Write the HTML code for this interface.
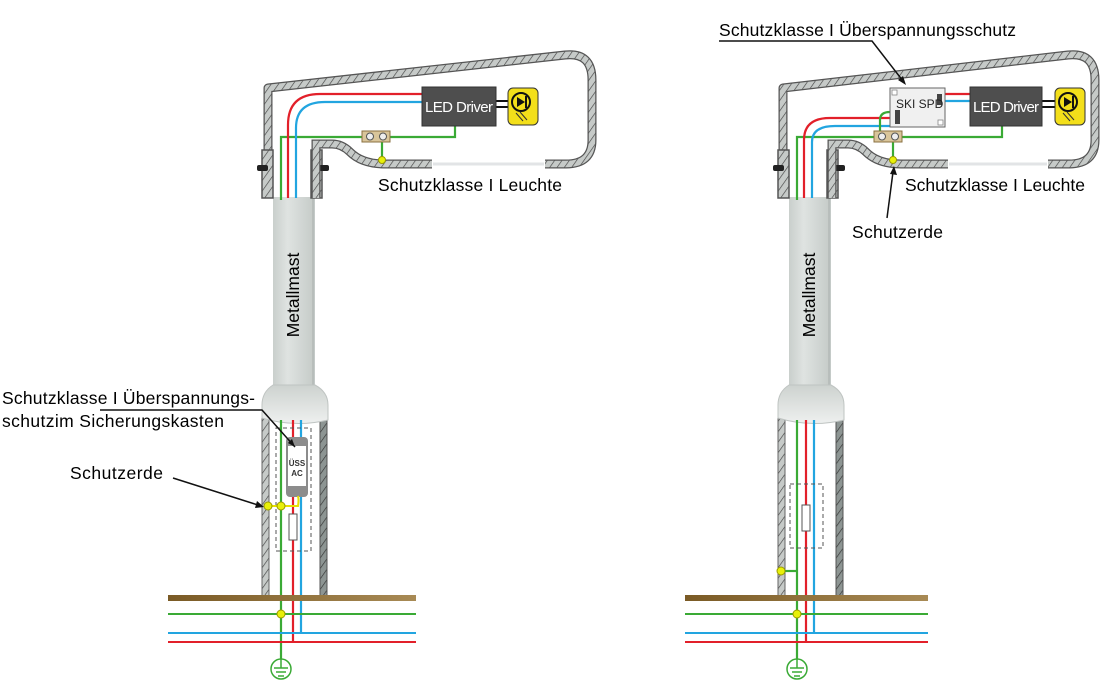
<!DOCTYPE html>
<html><head><meta charset="utf-8"><style>
body{margin:0;background:#fff}
svg{display:block}
text{font-family:"Liberation Sans",sans-serif}
</style></head><body>
<svg width="1102" height="681" viewBox="0 0 1102 681" xmlns="http://www.w3.org/2000/svg">
<defs>
<pattern id="hatch" patternUnits="userSpaceOnUse" width="6" height="6" patternTransform="rotate(35)">
<rect width="6" height="6" fill="#c6cac8"/><line x1="0" y1="0" x2="0" y2="6" stroke="#444" stroke-width="1.3"/>
</pattern>
<pattern id="hatchD" patternUnits="userSpaceOnUse" width="6" height="6" patternTransform="rotate(35)">
<rect width="6" height="6" fill="#8d9593"/><line x1="0" y1="0" x2="0" y2="6" stroke="#333" stroke-width="1.3"/>
</pattern>
<linearGradient id="pg" x1="0" x2="1">
<stop offset="0" stop-color="#c9cfcc"/><stop offset="0.35" stop-color="#dfe3e1"/><stop offset="1" stop-color="#c4cac7"/>
</linearGradient>
<linearGradient id="fg" x1="0" y1="0" x2="0" y2="1">
<stop offset="0" stop-color="#cdd2cf"/><stop offset="1" stop-color="#eef0ef"/>
</linearGradient>
<linearGradient id="brown" x1="0" x2="1">
<stop offset="0" stop-color="#7a5a25"/><stop offset="1" stop-color="#a88a55"/>
</linearGradient>
<g id="pole">
 <rect x="262" y="415" width="7" height="183" fill="url(#hatch)" stroke="#666" stroke-width="1"/>
 <rect x="320" y="415" width="7" height="183" fill="url(#hatchD)" stroke="#555" stroke-width="1"/>
 <rect x="273" y="197" width="42" height="200" fill="url(#pg)"/>
 <line x1="313" y1="197" x2="313" y2="397" stroke="#a9afad" stroke-width="1"/>
 <path d="M273,385 Q262,392 262,405 L262,418 Q295,428 328,420 L328,405 Q328,392 315,385 Z" fill="url(#fg)" stroke="#bfc4c2" stroke-width="1"/>
 <text x="0" y="0" font-size="17.5" transform="translate(299,295) rotate(-90)" text-anchor="middle">Metallmast</text>
 <rect x="262" y="150" width="11" height="48" fill="url(#hatch)" stroke="#555" stroke-width="1.5"/>
 <rect x="311" y="150" width="11" height="48" fill="url(#hatch)" stroke="#555" stroke-width="1.5"/>
 <rect x="257" y="165" width="11" height="6" rx="2" fill="#222"/>
 <rect x="318" y="165" width="11" height="6" rx="2" fill="#222"/>
 <path d="M432,164 L385,164 Q362,164 350,152 Q342,144 332,144 L316,144 L316,198" fill="none" stroke="#555" stroke-width="9"/>
 <path d="M432,164 L385,164 Q362,164 350,152 Q342,144 332,144 L316,144 L316,198" fill="none" stroke="url(#hatch)" stroke-width="6.5"/>
</g>
</defs>

<g fill="none" stroke-linejoin="round">
 <path d="M268,198 L268,88 L565,55 Q592,52 592,80 L592,140 Q592,164 566,164 L545,164" stroke="#555" stroke-width="9"/>
 <path d="M268,198 L268,88 L565,55 Q592,52 592,80 L592,140 Q592,164 566,164 L545,164" stroke="url(#hatch)" stroke-width="6.5"/>
 <line x1="433" y1="164" x2="544" y2="164" stroke="#e2e4e6" stroke-width="3"/>
</g>
<use href="#pole"/>
<line x1="496" y1="101" x2="508" y2="101" stroke="#111" stroke-width="2"/>
<line x1="496" y1="107" x2="508" y2="107" stroke="#111" stroke-width="2"/>
<rect x="508" y="88" width="30" height="37" rx="5" fill="#f3df1a" stroke="#333" stroke-width="1"/>
<circle cx="521" cy="102" r="9" fill="none" stroke="#111" stroke-width="2"/>
<path d="M517,97 L517,107 L525,102 Z" fill="#111"/>
<line x1="526" y1="96" x2="526" y2="108" stroke="#111" stroke-width="2"/>
<line x1="516" y1="113" x2="523" y2="121" stroke="#333" stroke-width="1"/>
<line x1="520" y1="112" x2="527" y2="120" stroke="#333" stroke-width="1"/>
<text x="378" y="191" font-size="17.5" textLength="184">Schutzklasse I Leuchte</text>

<g fill="none" stroke-width="2.2">
 <path d="M281,200 L281,137 L455,137 L455,126" stroke="#3aaa35"/>
 <path d="M288,198 L288,125 Q288,94 320,94 L422,94" stroke="#e2202a"/>
 <path d="M296,198 L296,128 Q296,102 325,102 L422,102" stroke="#22a5e0"/>
 <line x1="382" y1="137" x2="382" y2="160" stroke="#3aaa35"/>
 <path d="M281,420 L281,672" stroke="#3aaa35"/>
 <path d="M293,420 L293,642" stroke="#e2202a"/>
 <path d="M301,420 L301,633" stroke="#22a5e0"/>
</g>
<rect x="362" y="131" width="28" height="11" fill="#d9c59a" stroke="#8a7040" stroke-width="1"/>
<circle cx="370" cy="136.5" r="3.5" fill="#eee" stroke="#555"/><circle cx="383" cy="136.5" r="3.5" fill="#eee" stroke="#555"/>
<circle cx="382" cy="160" r="3.5" fill="#e8f00a" stroke="#9a9a00"/>
<rect x="422" y="87" width="74" height="39" fill="#4e4e4e" stroke="#333"/>
<text x="425" y="112" font-size="15" fill="#fff" textLength="68">LED Driver</text>
<rect x="276" y="428" width="35" height="123" fill="none" stroke="#555" stroke-width="1" stroke-dasharray="4 3"/>
<rect x="286" y="437" width="22" height="60" rx="4" fill="#8c8c8c"/>
<rect x="288" y="446" width="18" height="40" fill="#fff"/>
<text x="297" y="466" font-size="8" text-anchor="middle" font-weight="bold" fill="#333">ÜSS</text>
<text x="297" y="476" font-size="8" text-anchor="middle" font-weight="bold" fill="#333">AC</text>
<rect x="289" y="514" width="8" height="26" fill="#fff" stroke="#555"/>
<path d="M268,506 L298,506 Q299,500 298,496" fill="none" stroke="#e8e000" stroke-width="2"/>
<circle cx="268" cy="506" r="4" fill="#e8f00a" stroke="#9a9a00"/>
<circle cx="281" cy="506" r="4" fill="#e8f00a" stroke="#9a9a00"/>
<rect x="168" y="595" width="248" height="6" fill="url(#brown)"/>
<line x1="168" y1="614" x2="416" y2="614" stroke="#3aaa35" stroke-width="2"/>
<line x1="168" y1="633" x2="416" y2="633" stroke="#22a5e0" stroke-width="2"/>
<line x1="168" y1="642" x2="416" y2="642" stroke="#e2202a" stroke-width="2"/>
<circle cx="281" cy="614" r="4" fill="#e8f00a" stroke="#9a9a00"/>
<circle cx="281" cy="669" r="10" fill="#fff" stroke="#3aaa35" stroke-width="1.5"/>
<line x1="281" y1="659" x2="281" y2="668" stroke="#3aaa35" stroke-width="1.5"/>
<line x1="274" y1="668" x2="288" y2="668" stroke="#3aaa35" stroke-width="1.5"/>
<line x1="276" y1="672" x2="286" y2="672" stroke="#3aaa35" stroke-width="1.5"/>
<line x1="278" y1="676" x2="284" y2="676" stroke="#3aaa35" stroke-width="1.5"/>
<text x="2" y="404" font-size="17.5" textLength="253">Schutzklasse I Überspannungs-</text>
<text x="2" y="427" font-size="17.5" textLength="222">schutzim Sicherungskasten</text>
<text x="70" y="479" font-size="17.5" textLength="93">Schutzerde</text>
<polyline points="100,410 262,410 295,447" fill="none" stroke="#111" stroke-width="1.5"/>
<path d="M295,447 L288,443 L292,439 Z" fill="#111"/>
<line x1="173" y1="478" x2="258" y2="505" stroke="#111" stroke-width="1.5"/>
<path d="M264,507 L255,508 L257,501 Z" fill="#111"/>

<g fill="none" stroke-linejoin="round">
 <path d="M783,198 L783,88 L1068,55 Q1095,52 1095,80 L1095,140 Q1095,164 1069,164 L1048,164" stroke="#555" stroke-width="9"/>
 <path d="M783,198 L783,88 L1068,55 Q1095,52 1095,80 L1095,140 Q1095,164 1069,164 L1048,164" stroke="url(#hatch)" stroke-width="6.5"/>
 <line x1="949" y1="164" x2="1047" y2="164" stroke="#e2e4e6" stroke-width="3"/>
</g>
<g transform="translate(516,0)"><use href="#pole"/></g>
<line x1="1042" y1="101" x2="1055" y2="101" stroke="#111" stroke-width="2"/>
<line x1="1042" y1="107" x2="1055" y2="107" stroke="#111" stroke-width="2"/>
<rect x="1055" y="88" width="30" height="37" rx="5" fill="#f3df1a" stroke="#333" stroke-width="1"/>
<circle cx="1068" cy="102" r="9" fill="none" stroke="#111" stroke-width="2"/>
<path d="M1064,97 L1064,107 L1072,102 Z" fill="#111"/>
<line x1="1073" y1="96" x2="1073" y2="108" stroke="#111" stroke-width="2"/>
<line x1="1063" y1="113" x2="1070" y2="121" stroke="#333" stroke-width="1"/>
<line x1="1067" y1="112" x2="1074" y2="120" stroke="#333" stroke-width="1"/>
<text x="905" y="191" font-size="17.5" textLength="180">Schutzklasse I Leuchte</text>

<g fill="none" stroke-width="2.2">
 <path d="M797,200 L797,137 L1002,137 L1002,126" stroke="#3aaa35"/>
 <path d="M804,198 L804,140 Q804,118 830,118 L890,118" stroke="#e2202a"/>
 <path d="M812,198 L812,142 Q812,126 835,126 L890,126" stroke="#22a5e0"/>
 <path d="M880,137 L880,120 Q880,112 890,112" stroke="#3aaa35"/>
 <line x1="945" y1="94" x2="970" y2="94" stroke="#e2202a"/>
 <line x1="945" y1="101" x2="970" y2="101" stroke="#22a5e0"/>
 <line x1="893" y1="137" x2="893" y2="160" stroke="#3aaa35"/>
 <path d="M797,420 L797,672" stroke="#3aaa35"/>
 <path d="M806,420 L806,642" stroke="#e2202a"/>
 <path d="M814,420 L814,633" stroke="#22a5e0"/>
 <line x1="781" y1="571" x2="797" y2="571" stroke="#3aaa35"/>
</g>
<rect x="874" y="131" width="28" height="11" fill="#d9c59a" stroke="#8a7040" stroke-width="1"/>
<circle cx="882" cy="136.5" r="3.5" fill="#eee" stroke="#555"/><circle cx="895" cy="136.5" r="3.5" fill="#eee" stroke="#555"/>
<circle cx="893" cy="160" r="3.5" fill="#e8f00a" stroke="#9a9a00"/>
<rect x="890" y="88" width="55" height="39" fill="#f0f0f0" stroke="#666"/>
<rect x="892" y="90" width="5" height="5" fill="#fff" stroke="#888" stroke-width="0.8"/>
<rect x="938" y="120" width="5" height="5" fill="#fff" stroke="#888" stroke-width="0.8"/>
<rect x="937" y="94" width="5" height="11" fill="#444"/>
<rect x="895" y="110" width="5" height="14" fill="#444"/>
<text x="896" y="108" font-size="12" fill="#222">SKI SPD</text>
<rect x="970" y="87" width="72" height="39" fill="#4e4e4e" stroke="#333"/>
<text x="973" y="112" font-size="15" fill="#fff" textLength="66">LED Driver</text>
<rect x="790" y="484" width="33" height="64" fill="none" stroke="#555" stroke-width="1" stroke-dasharray="4 3"/>
<rect x="802" y="505" width="8" height="26" fill="#fff" stroke="#555"/>
<circle cx="781" cy="571" r="4" fill="#e8f00a" stroke="#9a9a00"/>
<rect x="685" y="595" width="243" height="6" fill="url(#brown)"/>
<line x1="685" y1="614" x2="928" y2="614" stroke="#3aaa35" stroke-width="2"/>
<line x1="685" y1="633" x2="928" y2="633" stroke="#22a5e0" stroke-width="2"/>
<line x1="685" y1="642" x2="928" y2="642" stroke="#e2202a" stroke-width="2"/>
<circle cx="797" cy="614" r="4" fill="#e8f00a" stroke="#9a9a00"/>
<circle cx="797" cy="669" r="10" fill="#fff" stroke="#3aaa35" stroke-width="1.5"/>
<line x1="797" y1="659" x2="797" y2="668" stroke="#3aaa35" stroke-width="1.5"/>
<line x1="790" y1="668" x2="804" y2="668" stroke="#3aaa35" stroke-width="1.5"/>
<line x1="792" y1="672" x2="802" y2="672" stroke="#3aaa35" stroke-width="1.5"/>
<line x1="794" y1="676" x2="800" y2="676" stroke="#3aaa35" stroke-width="1.5"/>
<text x="719" y="36" font-size="17.5" textLength="297">Schutzklasse I Überspannungsschutz</text>
<polyline points="719,41 872,41 903,81" fill="none" stroke="#111" stroke-width="1.5"/>
<path d="M906,85 L898,80 L903,76 Z" fill="#111"/>
<text x="852" y="238" font-size="17.5" textLength="91">Schutzerde</text>
<line x1="887" y1="218" x2="893" y2="172" stroke="#111" stroke-width="1.5"/>
<path d="M894,166 L897,175 L890,174 Z" fill="#111"/>
</svg>
</body></html>
